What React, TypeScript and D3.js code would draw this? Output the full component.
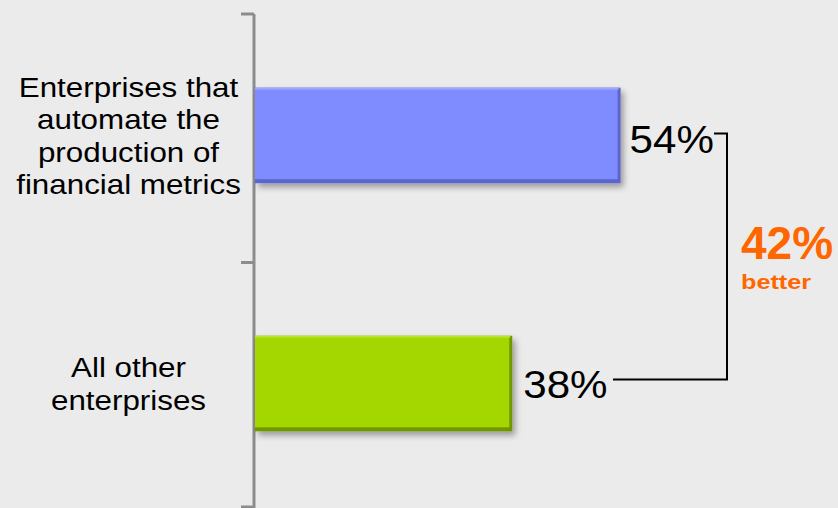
import React from "react";
import * as d3 from "d3";

const categories: string[][] = [
  ["Enterprises that", "automate the", "production of", "financial metrics"],
  ["All other", "enterprises"],
];
const values: number[] = [54, 38];
const valueLabels: string[] = ["54%", "38%"];
const diffLabel = "42%";
const diffSub = "better";
const barColors = ["#7f8cff", "#a4d600"];
const barDark = ["#5a66cc", "#6f9600"];
const barLight = ["#9aa6ff", "#b9e22a"];

const W = 838;
const H = 508;

export default function App() {
  const keys = categories.map((c) => c.join(" "));
  const y = d3.scaleBand<string>().domain(keys).range([12, 507]).paddingInner(0.615).paddingOuter(0.305);
  const x = d3.scaleLinear().domain([0, 100]).range([255, 932]);
  const axisX = 254;
  const tickVals = [14, (y(keys[0])! + y.bandwidth() + y(keys[1])!) / 2 + 3, 507];
  const sx = 1.1;

  const c0 = y(keys[0])! + y.bandwidth() / 2;
  const c1 = y(keys[1])! + y.bandwidth() / 2;
  const brX = 727;

  return (
    <div style={{ position: "fixed", left: 0, top: 0 }}>
      <svg width={W} height={H} style={{ display: "block", fontFamily: "'Liberation Sans', Arial, sans-serif" }}>
        <defs>
          <filter id="sh" x="-10%" y="-10%" width="130%" height="140%">
            <feGaussianBlur in="SourceAlpha" stdDeviation="3" />
            <feOffset dx="3" dy="4" result="b" />
            <feComponentTransfer>
              <feFuncA type="linear" slope="0.35" />
            </feComponentTransfer>
            <feMerge>
              <feMergeNode />
              <feMergeNode in="SourceGraphic" />
            </feMerge>
          </filter>
        </defs>
        <rect width={W} height={H} fill="#ebebeb" />
        {/* axis */}
        <line x1={axisX} x2={axisX} y1={14} y2={H} stroke="#8c8c8c" strokeWidth={3} />
        {tickVals.map((t, i) => (
          <line key={i} x1={241} x2={axisX} y1={t} y2={t} stroke="#8c8c8c" strokeWidth={3} />
        ))}
        {/* bars */}
        {keys.map((k, i) => {
          const by = y(k)!;
          const bh = y.bandwidth();
          const bx = x(0);
          const bw = x(values[i]) - x(0);
          return (
            <g key={k}>
              <g filter="url(#sh)">
                <rect x={bx} y={by} width={bw} height={bh} fill={barDark[i]} />
              </g>
              <rect x={bx} y={by + 1} width={bw - 3} height={bh - 5} fill={barColors[i]} />
              <rect x={bx} y={by} width={bw - 2} height={2} fill={barLight[i]} />
            </g>
          );
        })}
        {/* category labels */}
        {categories.map((lines, i) => {
          const c = y(keys[i])! + y.bandwidth() / 2;
          const lh = 32.3;
          const first = c - ((lines.length - 1) * lh) / 2 + 10;
          return (
            <g key={i} transform={`translate(128.5,0) scale(${sx},1)`}>
              {lines.map((l, j) => (
                <text key={j} x={0} y={first + j * lh} textAnchor="middle" fontSize={28.5} fill="#000">
                  {l}
                </text>
              ))}
            </g>
          );
        })}
        {/* value labels */}
        {keys.map((k, i) => {
          const c = y(k)! + y.bandwidth() / 2;
          return (
            <g key={k} transform={`translate(${x(values[i]) + 9 + i * 2},${c + 18 - i * 4}) scale(1.08,1)`}>
              <text x={0} y={0} fontSize={39} fill="#000">
                {valueLabels[i]}
              </text>
            </g>
          );
        })}
        {/* bracket */}
        <path
          d={`M714,${c0 - 2}H${brX}V${c1 - 4}H613`}
          fill="none"
          stroke="#000"
          strokeWidth={2}
        />
        <text x={741} y={259} fontSize={46} fontWeight="bold" fill="#ff6600">
          {diffLabel}
        </text>
        <g transform={`translate(741,289) scale(1.2,1)`}>
          <text x={0} y={0} fontSize={21} fontWeight="bold" fill="#ff6600">
            {diffSub}
          </text>
        </g>
      </svg>
    </div>
  );
}
